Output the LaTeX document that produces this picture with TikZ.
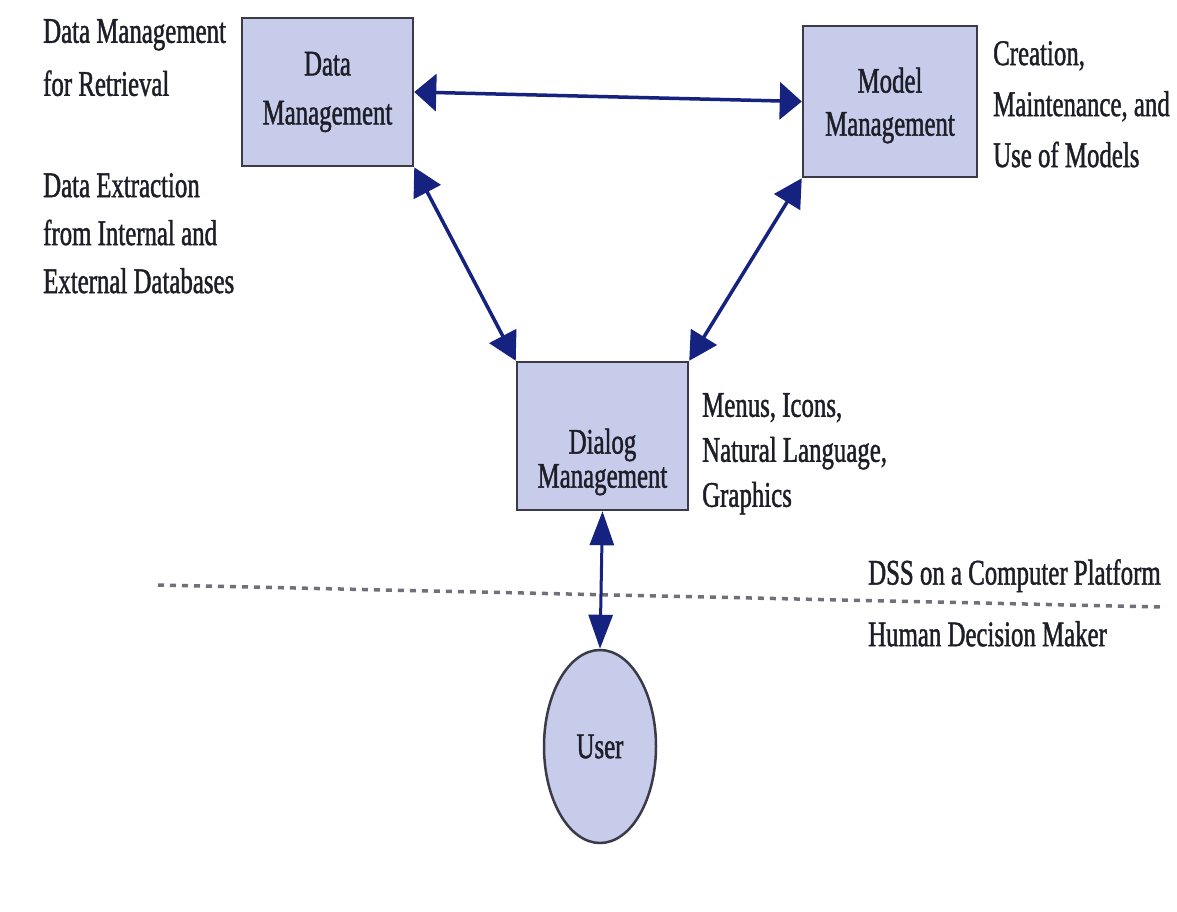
\documentclass[tikz,border=0pt]{standalone}
\usepackage{fontspec}
\setmainfont{Liberation Serif}[FakeStretch=0.69,FakeBold=1.2]
\usetikzlibrary{arrows.meta,shapes.geometric}

\definecolor{boxfill}{HTML}{C6CCEA}
\definecolor{boxline}{HTML}{3A3A48}
\definecolor{ink}{HTML}{1E1E28}
\definecolor{linkblue}{HTML}{15227F}
\definecolor{dots}{HTML}{70707A}

% 36pt type with a chosen line distance
\newcommand\txtsize[1]{\fontsize{36}{#1}\selectfont}

\begin{document}
\begin{tikzpicture}[x=1pt,y=-1pt,
  mgmt/.style={draw=boxline, line width=2.5pt, fill=boxfill, rectangle,
    inner sep=0pt, align=center, text=ink},
  person/.style={draw=boxline, line width=2.5pt, fill=boxfill, ellipse,
    inner sep=0pt, text=ink, font=\txtsize{40}},
  note/.style={anchor=north west, inner sep=0pt, align=left, text=ink},
  link/.style 2 args={draw=linkblue, line width=3.5pt,
    {Triangle[length=#1pt,width=#2pt]}-{Triangle[length=#1pt,width=#2pt]}},
  boundary/.style={draw=dots, line width=3.5pt, dash pattern=on 6pt off 6pt}]

\useasboundingbox (0,0) rectangle (1177,912);
\fill[white] (0,0) rectangle (1177,912);

% the three subsystems and the user
\node[mgmt, minimum width=171pt, minimum height=148pt, font=\txtsize{49}]
  (data) at (327.5,92) {Data\\Management};
\node[mgmt, minimum width=174pt, minimum height=151pt,
  label={[name=modeltext, yshift=-4pt, align=center, text=ink,
          font=\txtsize{43}]center:Model\\Management}]
  (model) at (890,101.5) {};
\node[mgmt, minimum width=171pt, minimum height=148pt,
  label={[name=dialogtext, yshift=-26pt, align=center, text=ink,
          font=\txtsize{34}]center:Dialog\\Management}]
  (dialog) at (602.5,436) {};
\node[person, minimum width=112pt, minimum height=193pt]
  (user) at (600,746.5) {User};

% side notes
\node[note, font=\txtsize{53}] (retr) at (43,19)
  {Data Management\\for Retrieval};
\node[note, font=\txtsize{48}] (extr) at (43,173)
  {Data Extraction\\from Internal and\\External Databases};
\node[note, font=\txtsize{51}] (models) at (993,41)
  {Creation,\\Maintenance, and\\Use of Models};
\node[note, font=\txtsize{45}] (menus) at (702,393)
  {Menus, Icons,\\Natural Language,\\Graphics};
\node[note, font=\txtsize{40}] (dss) at (868,559)
  {DSS on a Computer Platform};
\node[note, font=\txtsize{40}] (human) at (868,621)
  {Human Decision Maker};

% computer / human boundary
\coordinate (bL) at (158,585);
\coordinate (bR) at (1162,607);
\draw[boundary] (bL) -- (bR);

% two-way links
\draw[link={22}{37}] (data.east) -- (model.west);
\draw[link={28}{30}] (data.south east) -- (dialog.north west);
\draw[link={28}{30}] (model.south west) -- (dialog.north east);
\draw[link={34}{24}, line width=3pt] (dialog.south) -- (user.north);
\end{tikzpicture}
\end{document}
